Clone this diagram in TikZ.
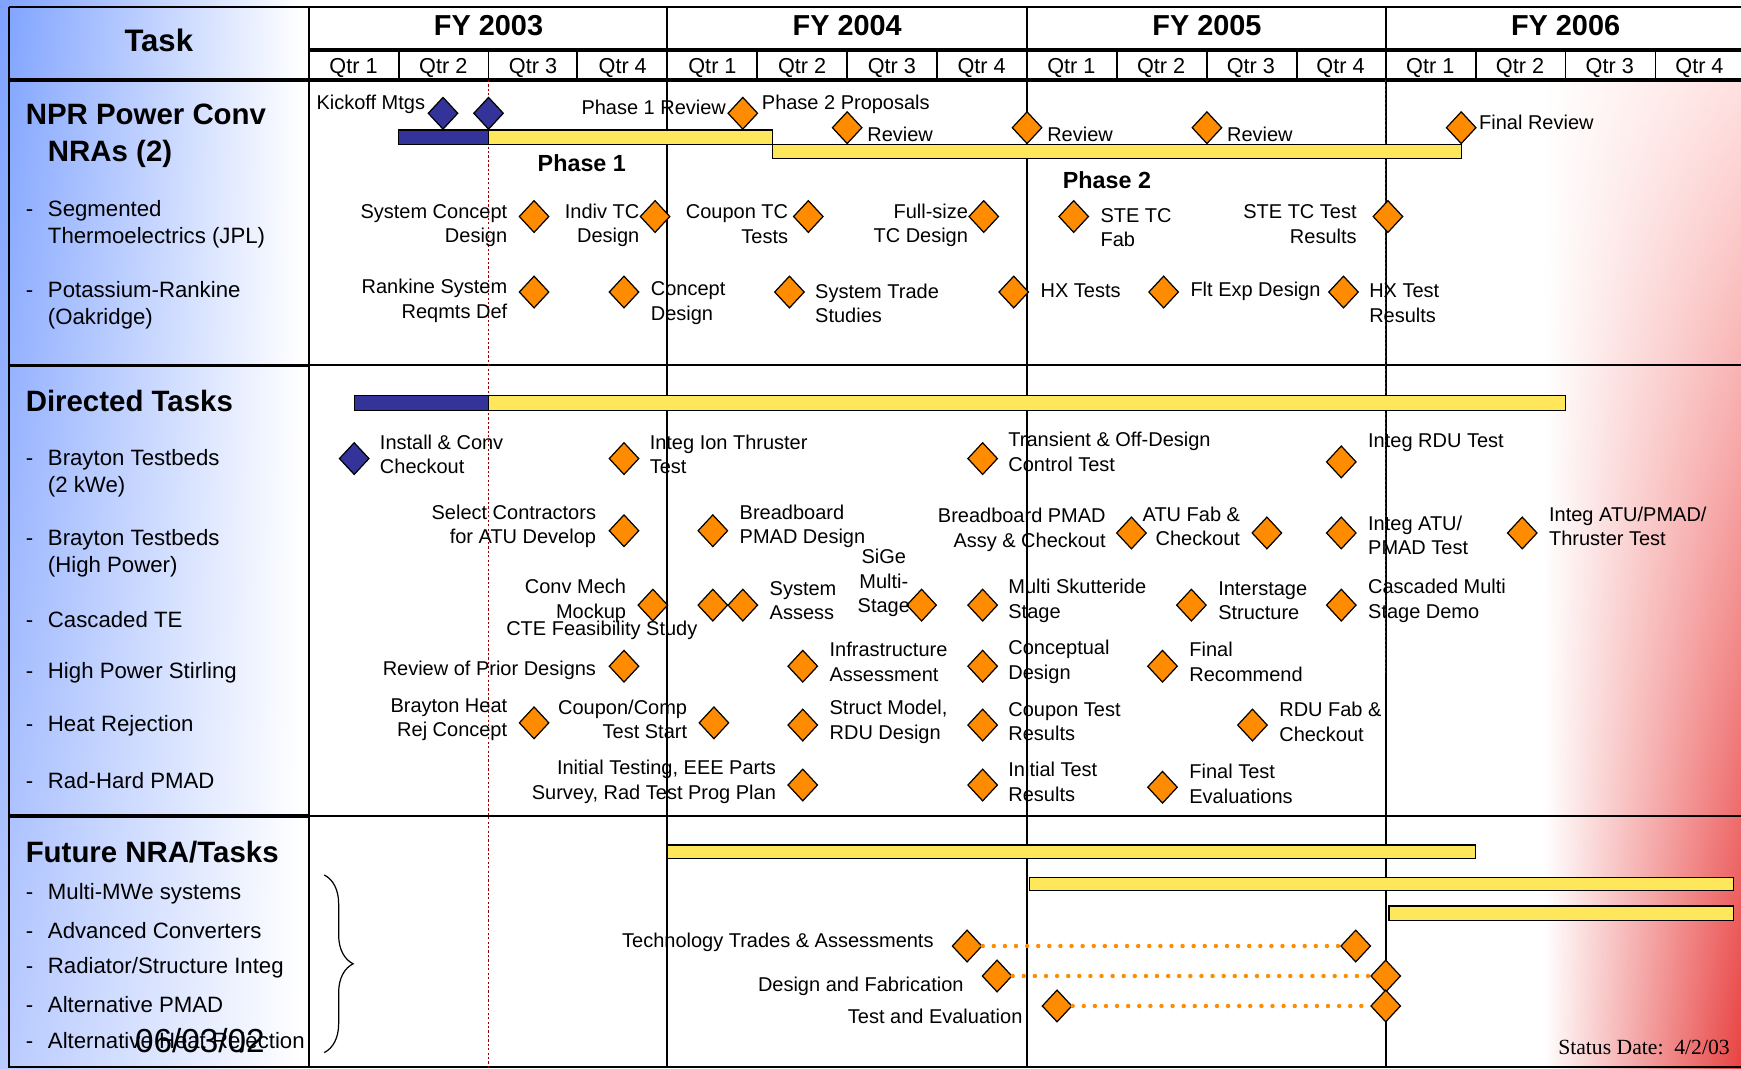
\documentclass[tikz,border=0pt]{standalone}
\usepackage{fontspec}
\setmainfont{Liberation Sans}
\newfontfamily\statusfont{Liberation Serif}
\usetikzlibrary{positioning,shapes.geometric,shadings,decorations.pathreplacing}
\definecolor{barnavy}{HTML}{333399}
\definecolor{baryellow}{HTML}{FFE75C}
\definecolor{msorange}{HTML}{FF8C00}
\definecolor{topblue}{HTML}{7EA2FF}
\definecolor{lowblue}{HTML}{B8CAFF}
\definecolor{edgered}{HTML}{E84242}
\definecolor{statusred}{HTML}{990000}
\newcommand{\taskdash}{\makebox[20pt][l]{-}}
\newcommand{\taskindent}{\hspace*{20pt}}

\begin{document}
\begin{tikzpicture}[x=1pt, y=-1pt,
    font=\fontsize{18}{22}\selectfont,
    lbl/.style={inner sep=0pt, align=left, anchor=west},
    lblr/.style={inner sep=0pt, align=right, anchor=east},
    lblc/.style={inner sep=0pt, align=center},
    ms/.style={diamond, draw=black, line width=1.1pt, fill=msorange, minimum width=27pt, minimum height=29pt, inner sep=0pt},
    msblue/.style={ms, fill=barnavy},
    fy/.style={font=\fontsize{26}{28}\selectfont\bfseries},
    qtr/.style={font=\fontsize{19.5}{20}\selectfont},
    sect/.style={font=\fontsize{26.5}{33}\selectfont\bfseries, align=left, anchor=west, inner sep=0pt},
    taskitem/.style={font=\fontsize{20}{24}\selectfont, align=left, anchor=west, inner sep=0pt},
    phase/.style={font=\fontsize{21}{24}\selectfont\bfseries},
    gridline/.style={line width=1.6pt},
    heavyline/.style={line width=3pt},
    bar/.style={draw=black, line width=1.2pt, fill=baryellow},
    navybar/.style={bar, fill=barnavy},
    statusline/.style={statusred, line width=1.4pt, dash pattern=on 2pt off 2pt},
    dotline/.style={msorange, line width=4pt, line cap=round, dash pattern=on 0pt off 10pt}
]
\useasboundingbox (0,0) rectangle (1568,962);

% background shading
\shade[upper left=topblue, lower left=lowblue, upper right=white, lower right=white] (0,0) rectangle (272,962);
\shade[upper left=white, lower left=white, upper right=red!12, lower right=edgered] (1390,72) rectangle (1568,962);

% table frame
\draw[gridline] (8,6) -- (1568,6);
\draw[gridline] (8,6) -- (8,961) -- (1568,961);
\draw[heavyline] (278,45) -- (1568,45);
\draw[heavyline] (8,72) -- (1568,72);
\draw[heavyline] (8,329) -- (278,329);
\draw[gridline] (278,329) -- (1568,329);
\draw[heavyline] (8,735) -- (278,735);
\draw[gridline] (278,735) -- (1568,735);
\draw[gridline] (278,6) -- (278,962);
\draw[gridline] (601,6) -- (601,962);
\draw[gridline] (925,6) -- (925,962);
\draw[gridline] (1248,6) -- (1248,962);
\foreach \qx in {359,440,520,682,763,844,1006,1087,1168,1329,1410,1491}
    \draw[gridline] (\qx,45) -- (\qx,72);

% status date lines
\draw[statusline] (440,72) -- (440,962);
\draw[statusline] (1248,72) -- (1248,606);

% header
\node[font=\fontsize{28}{30}\selectfont\bfseries] (task) at (143,36) {Task};
\node[fy] (fy03) at (440,23) {FY 2003};
\node[fy] (fy04) at (763,23) {FY 2004};
\node[fy] (fy05) at (1087,23) {FY 2005};
\node[fy] (fy06) at (1410,23) {FY 2006};
\foreach \yr in {0,...,3}
    \foreach \q in {1,...,4}
        \node[qtr] (q\yr\q) at ({278+323.25*\yr+80.81*(\q-0.5)},61) {Qtr \q};

% task column
\node[sect] (nprHead) at (23,122) {NPR Power Conv\\\taskindent NRAs (2)};
\node[taskitem] (steItem) at (23,202) {\taskdash Segmented\\\taskindent Thermoelectrics (JPL)};
\node[taskitem] (rankItem) at (23,275) {\taskdash Potassium-Rankine\\\taskindent (Oakridge)};
\node[sect] (dirHead) at (23,361) {Directed Tasks};
\node[taskitem] (b2Item) at (23,426) {\taskdash Brayton Testbeds\\\taskindent (2 kWe)};
\node[taskitem] (bhpItem) at (23,498) {\taskdash Brayton Testbeds\\\taskindent (High Power)};
\node[taskitem] (cteItem) at (23,558) {\taskdash Cascaded TE};
\node[taskitem] (hpsItem) at (23,606) {\taskdash High Power Stirling};
\node[taskitem] (hrItem) at (23,654) {\taskdash Heat Rejection};
\node[taskitem] (rhItem) at (23,703) {\taskdash Rad-Hard PMAD};
\node[sect] (futHead) at (23,767) {Future NRA/Tasks};
\node[taskitem] (mmwItem) at (23,805) {\taskdash Multi-MWe systems};
\node[taskitem] (acItem) at (23,838) {\taskdash Advanced Converters};
\node[taskitem] (rsiItem) at (23,872) {\taskdash Radiator/Structure Integ};
\node[taskitem] (apItem) at (23,905) {\taskdash Alternative PMAD};
\node[taskitem] (ahrItem) at (23,939) {\taskdash Alternative Heat Rejection};
\node[font=\fontsize{30}{32}\selectfont] (oldDate) at (180,937) {06/03/02};

% NPR Power Conv NRAs bars
\filldraw[navybar] (359,117) rectangle (440,130);
\filldraw[bar] (440,117) rectangle (696,130);
\filldraw[bar] (696,130) rectangle (1316,143);

\node[msblue] (kick1) at (399,102) {};
\node[msblue] (kick2) at (440,102) {};
\node[lblr] (kickTxt) at (383,94) {Kickoff Mtgs};
\node[ms] (p1rev) at (669,102) {};
\node[lblr] (p1revTxt) at (654,97) {Phase 1 Review};
\node[lbl] (p2propTxt) at (686,94) {Phase 2 Proposals};
\node[ms] (rev1) at (763,115) {};
\node[lbl] (rev1Txt) at (781,121) {Review};
\node[ms] (rev2) at (925,115) {};
\node[lbl] (rev2Txt) at (943,121) {Review};
\node[ms] (rev3) at (1087,115) {};
\node[lbl] (rev3Txt) at (1105,121) {Review};
\node[ms] (finRev) at (1316,115) {};
\node[lbl] (finRevTxt) at (1332,110) {Final Review};
\node[phase] (phase1) at (524,147) {Phase 1};
\node[phase] (phase2) at (997,162) {Phase 2};

% segmented thermoelectrics
\node[ms] (scd) at (481,195) {};
\node[lblr] (scdTxt) at (457,203) {System Concept\\Design};
\node[ms] (itc) at (590,195) {};
\node[lblr] (itcTxt) at (576,203) {Indiv TC\\Design};
\node[ms] (ctc) at (728,195) {};
\node[lblr] (ctcTxt) at (710,202) {Coupon TC\\Tests};
\node[ms] (fsz) at (886,195) {};
\node[lblr] (fszTxt) at (872,203) {Full-size\\TC Design};
\node[ms] (stf) at (967,195) {};
\node[lbl] (stfTxt) at (991,205) {STE TC\\Fab};
\node[ms] (stt) at (1250,195) {};
\node[lblr] (sttTxt) at (1222,202) {STE TC Test\\Results};

% potassium-rankine
\node[ms] (rsr) at (481,263) {};
\node[lblr] (rsrTxt) at (457,271) {Rankine System\\Reqmts Def};
\node[ms] (cdz) at (562,263) {};
\node[lbl] (cdzTxt) at (586,273) {Concept\\Design};
\node[ms] (sts) at (711,263) {};
\node[lbl] (stsTxt) at (734,273) {System Trade\\Studies};
\node[ms] (hxt) at (913,263) {};
\node[lbl] (hxtTxt) at (937,262) {HX Tests};
\node[ms] (fed) at (1048,263) {};
\node[lbl] (fedTxt) at (1072,262) {Flt Exp Design};
\node[ms] (hxr) at (1210,263) {};
\node[lbl] (hxrTxt) at (1233,273) {HX Test\\Results};

% directed tasks bar
\filldraw[navybar] (319,356) rectangle (440,370);
\filldraw[bar] (440,356) rectangle (1410,370);

% brayton testbeds 2 kWe
\node[msblue] (icc) at (319,413) {};
\node[lbl] (iccTxt) at (342,409) {Install \& Conv\\Checkout};
\node[ms] (iit) at (562,413) {};
\node[lbl] (iitTxt) at (585,409) {Integ Ion Thruster\\Test};
\node[ms] (tod) at (885,413) {};
\node[lbl] (todTxt) at (908,407) {Transient \& Off-Design\\Control Test};
\node[ms] (ird) at (1208,416) {};
\node[lbl] (irdTxt) at (1232,399) {Integ RDU Test};

% brayton testbeds high power
\node[ms] (sca) at (562,478) {};
\node[lblr] (scaTxt) at (537,474) {Select Contractors\\for ATU Develop};
\node[ms] (bpd) at (642,478) {};
\node[lbl] (bpdTxt) at (666,474) {Breadboard\\PMAD Design};
\node[ms] (bpa) at (1019,480) {};
\node[lblr] (bpaTxt) at (996,477) {Breadboard PMAD\\Assy \& Checkout};
\node[ms] (afc) at (1141,480) {};
\node[lblr] (afcTxt) at (1117,474) {ATU Fab \&\\Checkout};
\node[ms] (iap) at (1208,480) {};
\node[lbl] (iapTxt) at (1232,482) {Integ ATU/\\PMAD Test};
\node[ms] (iapt) at (1371,480) {};
\node[lbl] (iaptTxt) at (1395,474) {Integ ATU/PMAD/\\Thruster Test};

% cascaded TE
\node[ms] (cmm) at (588,545) {};
\node[lblr] (cmmTxt) at (564,541) {Conv Mech\\Mockup};
\node[lblc] (cteTxt) at (542,568) {CTE Feasibility Study};
\node[ms] (sa1) at (642,545) {};
\node[ms] (sa2) at (669,545) {};
\node[lbl] (saTxt) at (693,541) {System\\Assess};
\node[ms] (sige) at (830,545) {};
\node[lblc] (sigeTxt) at (796,525) {SiGe\\Multi-\\Stage};
\node[ms] (mss) at (885,545) {};
\node[lbl] (mssTxt) at (908,541) {Multi Skutteride\\Stage};
\node[ms] (iss) at (1073,545) {};
\node[lbl] (issTxt) at (1097,541) {Interstage\\Structure};
\node[ms] (cms) at (1208,545) {};
\node[lbl] (cmsTxt) at (1232,541) {Cascaded Multi\\Stage Demo};

% high power stirling
\node[ms] (rpd) at (562,600) {};
\node[lblr] (rpdTxt) at (537,604) {Review of Prior Designs};
\node[ms] (ina) at (723,600) {};
\node[lbl] (inaTxt) at (747,596) {Infrastructure\\Assessment};
\node[ms] (cnd) at (885,600) {};
\node[lbl] (cndTxt) at (908,596) {Conceptual\\Design};
\node[ms] (frc) at (1047,600) {};
\node[lbl] (frcTxt) at (1071,596) {Final\\Recommend};

% heat rejection
\node[ms] (bhr) at (481,651) {};
\node[lblr] (bhrTxt) at (457,648) {Brayton Heat\\Rej Concept};
\node[ms] (cct) at (643,651) {};
\node[lblr] (cctTxt) at (619,648) {Coupon/Comp\\Test Start};
\node[ms] (smr) at (723,653) {};
\node[lbl] (smrTxt) at (747,650) {Struct Model,\\RDU Design};
\node[ms] (ctr) at (885,653) {};
\node[lbl] (ctrTxt) at (908,650) {Coupon Test\\Results};
\node[ms] (rfc) at (1128,653) {};
\node[lbl] (rfcTxt) at (1152,650) {RDU Fab \&\\Checkout};

% rad-hard PMAD
\node[ms] (iee) at (723,707) {};
\node[lblr] (ieeTxt) at (699,704) {Initial Testing, EEE Parts\\Survey, Rad Test Prog Plan};
\node[ms] (itr) at (885,707) {};
\node[lbl] (itrTxt) at (908,704) {Initial Test\\Results};
\node[ms] (fte) at (1047,709) {};
\node[lbl] (fteTxt) at (1071,706) {Final Test\\Evaluations};

% future NRA/tasks
\filldraw[bar] (601,761) rectangle (1329,773);
\filldraw[bar] (927,790) rectangle (1561,802);
\filldraw[bar] (1251,816) rectangle (1561,829);

\coordinate (braceTop) at (292,788);
\coordinate (braceBot) at (292,948);
\draw[line width=1.1pt, decorate, decoration={brace, amplitude=26pt}] (braceTop) -- (braceBot);

\node[ms] (ttaA) at (871,852) {};
\node[ms] (ttaB) at (1221,852) {};
\node[lblr] (ttaTxt) at (841,849) {Technology Trades \& Assessments};
\node[ms] (dfA) at (898,879) {};
\node[ms] (dfB) at (1248,879) {};
\node[lblr] (dfTxt) at (868,888) {Design and Fabrication};
\node[ms] (teA) at (952,906) {};
\node[ms] (teB) at (1248,906) {};
\node[lblr] (teTxt) at (921,915) {Test and Evaluation};
\draw[dotline] (ttaA) -- (ttaB);
\draw[dotline] (dfA) -- (dfB);
\draw[dotline] (teA) -- (teB);

\node[lblr, font=\statusfont\fontsize{19.5}{22}\selectfont] (status) at (1558,943) {Status Date:\ \ 4/2/03};

\end{tikzpicture}
\end{document}
